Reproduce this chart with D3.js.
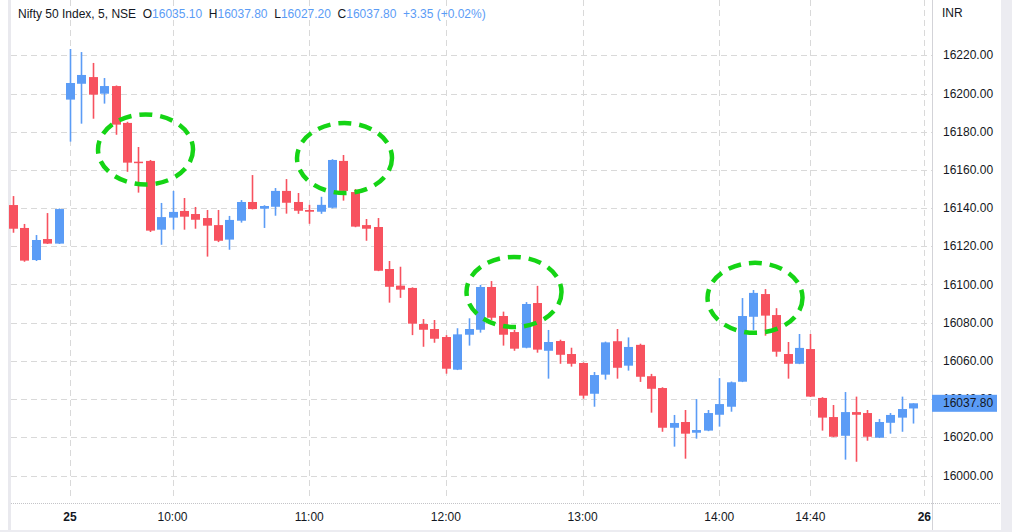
<!DOCTYPE html>
<html><head><meta charset="utf-8">
<script src="https://cdn.jsdelivr.net/npm/d3@7"></script>
<style>html,body{margin:0;padding:0;background:#fff;overflow:hidden}svg{display:block}</style>
</head><body><svg id="c" width="1012" height="532"></svg>
<script>
const times = ["15:05","15:10","15:15","15:20","15:25",
"09:15","09:20","09:25","09:30","09:35","09:40","09:45","09:50","09:55","10:00","10:05","10:10","10:15","10:20","10:25","10:30","10:35","10:40","10:45","10:50","10:55",
"11:00","11:05","11:10","11:15","11:20","11:25","11:30","11:35","11:40","11:45","11:50","11:55",
"12:00","12:05","12:10","12:15","12:20","12:25","12:30","12:35","12:40","12:45","12:50","12:55",
"13:00","13:05","13:10","13:15","13:20","13:25","13:30","13:35","13:40","13:45","13:50","13:55",
"14:00","14:05","14:10","14:15","14:20","14:25","14:30","14:35","14:40","14:45","14:50","14:55",
"15:00","15:05","15:10","15:15","15:20","15:25"];
const open  = [16141.6,16129.6,16112.8,16123.8,16121.4,16196.8,16205.1,16208.6,16199.9,16203.9,16184.6,16164.3,16164.7,16128.7,16135.0,16138.5,16136.9,16134.8,16131.1,16123.5,16133.4,16143.2,16139.7,16140.7,16149.0,16143.2,16139.0,16138.1,16140.2,16164.7,16148.4,16131.1,16130.1,16108.1,16099.4,16098.2,16079.3,16076.7,16072.5,16055.4,16073.7,16076.3,16098.7,16083.5,16075.1,16066.9,16090.3,16065.3,16070.4,16063.6,16058.9,16042.8,16052.8,16070.3,16057.5,16068.4,16052.0,16045.8,16025.0,16028.0,16022.4,16023.5,16031.8,16036.0,16049.1,16083.1,16095.0,16084.0,16063.6,16058.5,16066.2,16040.6,16030.6,16020.8,16033.2,16032.7,16019.8,16027.6,16030.3,16035.1];
const high  = [16146.3,16131.7,16125.9,16137.4,16139.8,16223.3,16221.7,16216.0,16208.1,16204.2,16185.2,16172.0,16165.2,16142.7,16149.0,16145.3,16140.6,16139.0,16139.0,16135.9,16144.2,16157.3,16141.5,16150.5,16155.2,16147.9,16141.7,16145.9,16165.6,16167.8,16150.0,16134.3,16134.8,16112.3,16109.3,16098.5,16081.9,16081.4,16073.5,16077.1,16082.3,16099.8,16101.8,16085.8,16076.2,16090.8,16099.3,16076.2,16071.1,16066.9,16059.2,16054.2,16070.1,16076.7,16072.3,16069.0,16053.2,16046.2,16031.7,16034.3,16040.0,16034.3,16051.0,16049.2,16092.9,16097.1,16097.6,16087.6,16069.9,16074.1,16074.1,16041.0,16036.9,16043.7,16041.3,16034.3,16029.6,16032.7,16041.3,16037.8];
const low   = [16127.1,16111.9,16112.3,16121.2,16121.2,16174.8,16184.2,16186.8,16194.7,16178.4,16159.0,16148.1,16127.5,16120.8,16128.7,16128.7,16129.2,16114.6,16122.2,16118.2,16132.4,16139.3,16129.6,16136.0,16137.1,16137.0,16131.8,16137.0,16139.9,16143.9,16130.0,16122.9,16107.0,16090.5,16093.0,16073.5,16067.4,16069.5,16053.3,16055.2,16068.0,16074.8,16081.4,16068.0,16065.3,16066.6,16064.3,16050.7,16058.5,16057.0,16040.2,16036.0,16050.2,16050.7,16054.9,16049.0,16032.9,16022.9,16015.1,16008.8,16019.3,16023.2,16025.6,16033.4,16048.9,16076.2,16073.2,16062.2,16050.7,16058.3,16041.1,16023.5,16020.1,16008.3,16007.2,16018.2,16019.6,16021.9,16022.9,16027.2];
const close = [16129.2,16112.5,16123.3,16121.4,16139.5,16205.5,16209.7,16199.4,16203.9,16183.7,16163.8,16163.6,16128.2,16135.3,16138.0,16135.5,16133.9,16130.8,16122.9,16133.8,16143.2,16139.5,16141.1,16149.0,16142.8,16138.6,16138.1,16141.7,16165.2,16149.0,16130.3,16129.2,16107.2,16098.8,16097.3,16079.5,16076.3,16071.6,16055.9,16073.9,16076.7,16098.7,16082.6,16073.7,16066.4,16089.8,16065.9,16069.9,16063.2,16058.5,16041.8,16052.6,16069.7,16056.4,16067.3,16051.7,16045.4,16025.0,16027.5,16021.9,16023.8,16032.7,16037.4,16048.8,16083.5,16095.6,16083.7,16064.8,16058.5,16066.8,16041.3,16030.3,16020.3,16033.2,16031.8,16020.3,16028.0,16031.7,16034.8,16037.8];
const priceTicks = [16000,16020,16040,16060,16080,16100,16120,16140,16160,16180,16200,16220];
const timeTickIndex = [5,14,26,38,50,62,70,80];
const timeTickLabels = ["25","10:00","11:00","12:00","13:00","14:00","14:40","26"];
// highlight ellipses: centre at (candle index, price)
const highlightIdx = [11.63, 29.1, 43.98, 65.14];
const highlightPrice = [16170.7, 16166.2, 16096.1, 16093.0];
const headerParts = [["Nifty 50 Index, 5, NSE  ","#131722"],["O","#131722"],["16035.10  ","#5b9cf6"],["H","#131722"],["16037.80  ","#5b9cf6"],["L","#131722"],["16027.20  ","#5b9cf6"],["C","#131722"],["16037.80  ","#5b9cf6"],["+3.35 (+0.02%)","#5b9cf6"]];
const lastPrice = 16037.80;

const UP="#5b9cf6", DOWN="#f7525f";
const svg = d3.select("#c");
const font = "'Liberation Sans', Arial, sans-serif";
const plotR = 932, plotB = 503;
const x = d3.scaleLinear().domain([0,79]).range([13.05, 912.9]);
const y = d3.scaleLinear().domain([16000,16220]).range([475.5,55.3]);
const data = close.map((c,i)=>({t:times[i],o:open[i],h:high[i],l:low[i],c:c,i:i}));

// frame bands
svg.append("rect").attr("x",1001).attr("y",0).attr("width",11).attr("height",532).attr("fill","#ececf1");
svg.append("rect").attr("x",0).attr("y",530).attr("width",1012).attr("height",2).attr("fill","#ececf1");
svg.append("rect").attr("x",8).attr("y",0).attr("width",3).attr("height",530).attr("fill","#e9e9ee");

// grid
const g = svg.append("g");
g.selectAll(".hg").data(priceTicks).join("line")
 .attr("x1",11).attr("x2",plotR).attr("y1",d=>Math.round(y(d))+0.5).attr("y2",d=>Math.round(y(d))+0.5)
 .attr("stroke","#d9d9d9").attr("stroke-dasharray","6,4");
g.selectAll(".vg").data(timeTickIndex).join("line")
 .attr("x1",d=>Math.round(x(d))+0.5).attr("x2",d=>Math.round(x(d))+0.5).attr("y1",0).attr("y2",plotB-4)
 .attr("stroke","#d9d9d9").attr("stroke-dasharray","6,4");

// candles
const cg = svg.append("g");
cg.selectAll(".w").data(data).join("line")
 .attr("x1",d=>Math.round(x(d.i))+0.5).attr("x2",d=>Math.round(x(d.i))+0.5)
 .attr("y1",d=>y(d.h)).attr("y2",d=>y(d.l))
 .attr("stroke",d=>d.c>=d.o?UP:DOWN).attr("stroke-width",1.6);
cg.selectAll(".b").data(data).join("rect")
 .attr("x",d=>Math.round(x(d.i))-4).attr("width",9)
 .attr("y",d=>y(Math.max(d.o,d.c)))
 .attr("height",d=>Math.max(1.5, y(Math.min(d.o,d.c))-y(Math.max(d.o,d.c))))
 .attr("fill",d=>d.c>=d.o?UP:DOWN);

// highlight ellipses
svg.selectAll(".el").data(highlightIdx).join("ellipse")
 .attr("cx",d=>x(d)).attr("cy",(d,i)=>y(highlightPrice[i]))
 .attr("rx",47.5).attr("ry",35)
 .attr("fill","none").attr("stroke","#15d415").attr("stroke-width",4.5).attr("stroke-dasharray","13,8");

// axes borders
svg.append("line").attr("x1",plotR+0.5).attr("x2",plotR+0.5).attr("y1",0).attr("y2",530).attr("stroke","#d3d3d8");
svg.append("line").attr("x1",11).attr("x2",1001).attr("y1",plotB+0.5).attr("y2",plotB+0.5).attr("stroke","#c4c4c8").attr("stroke-dasharray","1,1");

// price axis labels
svg.append("text").attr("x",942).attr("y",17).attr("font-family",font).attr("font-size",12).attr("fill","#131722").text("INR");
svg.selectAll(".pl").data(priceTicks).join("text")
 .attr("x",943).attr("y",d=>y(d)+4).attr("font-family",font).attr("font-size",12).attr("fill","#131722")
 .text(d=>d3.format(".2f")(d));
svg.append("rect").attr("x",932).attr("y",y(lastPrice)-8.5).attr("width",65).attr("height",17).attr("fill","#5b9cf6");
svg.append("text").attr("x",943).attr("y",y(lastPrice)+4).attr("font-family",font).attr("font-size",12).attr("fill","#131722").text(d3.format(".2f")(lastPrice));

// time axis labels
svg.selectAll(".tl").data(timeTickIndex).join("text")
 .attr("x",(d,i)=>i===timeTickIndex.length-1?plotR-1:x(d)).attr("y",521)
 .attr("text-anchor",(d,i)=>i===timeTickIndex.length-1?"end":"middle").attr("font-family",font).attr("font-size",12)
 .attr("font-weight",(d,i)=>timeTickLabels[i].length<=2?"bold":"normal").attr("fill","#131722")
 .text((d,i)=>timeTickLabels[i]);

// header
const ht = svg.append("text").attr("x",18).attr("y",18).attr("font-family",font).attr("font-size",12).style("white-space","pre");
headerParts.forEach(p=>ht.append("tspan").attr("fill",p[1]).text(p[0]));
</script></body></html>
